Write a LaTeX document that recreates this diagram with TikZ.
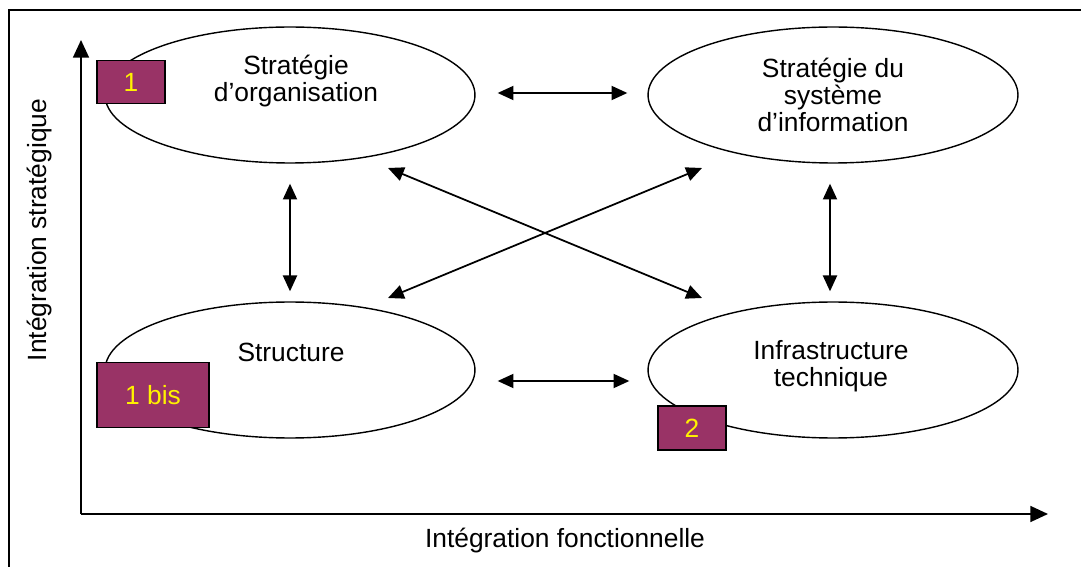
\documentclass[tikz,border=0pt]{standalone}
\usepackage{fontspec}
\setmainfont{Liberation Sans}
\usetikzlibrary{arrows.meta, shapes.geometric, positioning}
\definecolor{plum}{HTML}{993366}

\begin{document}
\begin{tikzpicture}[x=0.02cm, y=-0.02cm,
    font=\fontsize{15}{15.5}\selectfont,
    zone/.style={ellipse, draw, line width=0.8pt, minimum width=7.4cm, minimum height=2.72cm, inner sep=0},
    txt/.style={align=center, inner sep=0},
    num/.style={rectangle, draw, line width=0.9pt, fill=plum, text=yellow, inner sep=0},
    link/.style={line width=1pt, {Triangle[length=9pt,width=8pt]}-{Triangle[length=9pt,width=8pt]}},
    axis/.style={line width=1.1pt, -{Triangle[length=10pt,width=9pt]}}]

    \useasboundingbox (0,0) rectangle (1081,567);
    \clip (0,0) rectangle (1081,567);
    \draw[line width=1pt] (9,10) rectangle (1095,590);

    % axes
    \coordinate (o) at (81,514);
    \coordinate (ytip) at (81,40);
    \coordinate (xtip) at (1048,514);
    \draw[axis] (o) -- (ytip);
    \draw[axis] (o) -- (xtip);
    \node[rotate=90, txt] (ylab) at (40,230) {Intégration stratégique};
    \node[txt] (xlab) at (565,541) {Intégration fonctionnelle};

    % the four zones
    \node[zone] (orga) at (290,95) {};
    \node[zone] (si) at (833,95) {};
    \node[zone] (struct) at (290,370) {};
    \node[zone] (infra) at (833,370) {};

    \node[txt] (orgaText) at (296,81) {Stratégie\\d'organisation};
    \node[txt] (siText) at (833,95) {Stratégie du\\système\\d'information};
    \node[txt] (structText) at (291,352) {Structure};
    \node[txt] (infraText) at (831,366) {Infrastructure\\technique};

    % numbered tags
    \node[num, minimum width=1.36cm, minimum height=0.86cm] (n1) at (131,82) {1};
    \node[num, minimum width=2.24cm, minimum height=1.3cm] (n1bis) at (153,395) {1 bis};
    \node[num, minimum width=1.36cm, minimum height=0.88cm] (n2) at (692,428) {2};

    % links
    \draw[link, shorten <=0.44cm, shorten >=0.4cm] ([yshift=0.04cm]orga.east) -- ([yshift=0.04cm]si.west);
    \draw[link, shorten <=0.44cm, shorten >=0.36cm] ([yshift=-0.22cm]struct.east) -- ([yshift=-0.22cm]infra.west);
    \draw[link, shorten <=0.4cm, shorten >=0.2cm] (orga.south) -- (struct.north);
    \draw[link, shorten <=0.4cm, shorten >=0.2cm] ([xshift=-0.06cm]si.south) -- ([xshift=-0.06cm]infra.north);

    \coordinate (d1) at (388,168);
    \coordinate (d2) at (702,298);
    \coordinate (d3) at (388,298);
    \coordinate (d4) at (702,168);
    \draw[link] (d1) -- (d2);
    \draw[link] (d3) -- (d4);
\end{tikzpicture}
\end{document}
